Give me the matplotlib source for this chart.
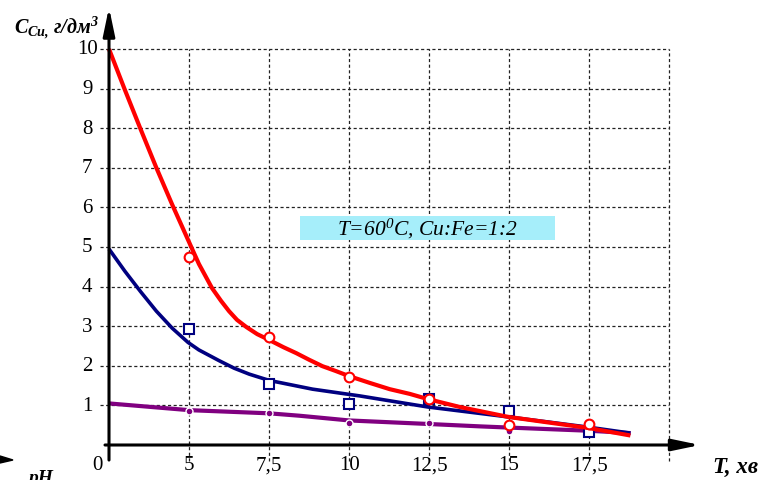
import matplotlib
matplotlib.use("Agg")
import matplotlib.pyplot as plt
from matplotlib.patches import Rectangle
import numpy as np

plt.rcParams['font.family'] = ['Liberation Serif', 'DejaVu Serif']
plt.rcParams['mathtext.fontset'] = 'custom'
plt.rcParams['mathtext.rm'] = 'Liberation Serif:italic'
plt.rcParams['mathtext.it'] = 'Liberation Serif:italic'
plt.rcParams['mathtext.bf'] = 'Liberation Serif:bold:italic'

# виміряні точки
t_pts = [5, 7.5, 10, 12.5, 15, 17.5]
red_pts = [4.75, 2.73, 1.72, 1.16, 0.50, 0.53]
blue_pts = [2.92, 1.54, 1.03, 1.15, 0.86, 0.33]
purple_pts = [0.86, 0.80, 0.55, 0.55, 0.35, 0.35]

# апроксимуючі криві
red_t = [0, 0.99, 1.98, 2.96, 3.95, 4.94, 5.31, 5.72, 6.0, 6.25, 6.5, 6.79, 7.13, 7.51,
         7.95, 8.35, 8.76, 9.17, 9.58, 10, 10.64, 11.27, 11.9, 12.46, 13.46, 14.97,
         16.22, 17.48, 18.79]
red_c = [10, 8.97, 7.97, 7.0, 6.07, 5.18, 4.57, 3.96, 3.64, 3.38, 3.16, 2.98, 2.80, 2.65,
         2.47, 2.32, 2.15, 1.99, 1.87, 1.74, 1.57, 1.41, 1.29, 1.16, 0.96, 0.71,
         0.57, 0.43, 0.24]
blue_ct = [0, 0.99, 1.98, 2.96, 3.95, 4.94, 5.31, 5.94, 6.41, 6.88, 7.51, 8.86, 10.33,
           12.46, 14.97, 17.48, 18.79]
blue_c = [4.95, 4.39, 3.87, 3.38, 2.95, 2.59, 2.40, 2.13, 1.94, 1.79, 1.63, 1.41, 1.24,
          0.96, 0.71, 0.45, 0.30]
purple_ct = [0, 5, 7.5, 8.44, 10, 12.5, 14.1, 15, 17.5, 18.8]
purple_c = [1.05, 0.88, 0.80, 0.74, 0.62, 0.53, 0.47, 0.44, 0.36, 0.30]

x_ticks = [5, 7.5, 10, 12.5, 15, 17.5]
x_labels = ['5', '7,5', '10', '12,5', '15', '17,5']
y_ticks = [1, 2, 3, 4, 5, 6, 7, 8, 9, 10]


# вісь часу: 0..5 займає одну клітинку, далі крок 2,5
def fwd(v):
    v = np.asarray(v, dtype=float)
    return np.where(v < 5, v / 5, 1 + (v - 5) / 2.5)


def inv(p):
    p = np.asarray(p, dtype=float)
    return np.where(p < 1, p * 5, 5 + (p - 1) * 2.5)


W, H = 765, 481
fig = plt.figure(figsize=(W / 100, H / 100), dpi=100)
ax = fig.add_axes([100 / W, (H - 446) / H, 612 / W, (446 - 10.4) / H])
ax.set_xscale('function', functions=(fwd, inv))
ax.set_xlim(-0.5625, 21.34)
ax.set_ylim(0, 11)
for s in ax.spines.values():
    s.set_visible(False)
ax.set_xticks([])
ax.set_yticks([])

# сітка
grid_kw = dict(color='#222222', linewidth=0.9, linestyle=(0, (2.5, 2)), zorder=1, clip_on=False)
ax.vlines(x_ticks + [20], -0.4, 10, **grid_kw)
ax.hlines(y_ticks, -0.5625, 20, **grid_kw)

# осі зі стрілками
arr = dict(arrowstyle='-|>,head_length=1.2,head_width=0.25', color='black', lw=2.2,
           shrinkA=0, shrinkB=0, mutation_scale=14)
ax.annotate('', xy=(0, 11.05), xytext=(0, -0.38), arrowprops=arr, annotation_clip=False, zorder=6)
ax.annotate('', xy=(20.97, 0), xytext=(-0.25, 0), arrowprops=arr, annotation_clip=False, zorder=6)

# підписи поділок
for v, lab in zip(x_ticks, x_labels):
    ax.text(v, -0.5, lab, ha='center', va='center', fontsize=15, clip_on=False)
ax.text(-0.75, -0.5, '0', ha='center', va='center', fontsize=15, clip_on=False)
for v in y_ticks:
    ax.text(-1.36, v, str(v), ha='center', va='center', fontsize=15, clip_on=False)

# криві та точки
ax.plot(purple_ct, purple_c, color='#800080', lw=3, zorder=3, solid_capstyle='butt')
ax.plot(t_pts, purple_pts, 'o', color='#800080', ms=5, mec='white', mew=1, zorder=3.5)
ax.plot(blue_ct, blue_c, color='#000080', lw=2.6, zorder=4, solid_capstyle='butt',
        solid_joinstyle='round')
ax.plot(t_pts, blue_pts, 's', color='#000080', mfc='white', ms=7, mew=1.5, zorder=4.5)
ax.plot(red_t, red_c, color='#ff0000', lw=3, zorder=5, solid_capstyle='butt',
        solid_joinstyle='round')
ax.plot(t_pts, red_pts, 'o', color='#ff0000', mfc='white', ms=7, mew=1.5, zorder=5.5)

# підпис умов
ax.add_patch(Rectangle((300 / W, 1 - 241 / H), 255 / W, 24 / H, transform=fig.transFigure,
                       facecolor='#a6eefa', edgecolor='none', zorder=2, clip_on=False))
fig.text(427 / W, 1 - 229 / H, r'T=60$^{0}$C, Cu:Fe=1:2', ha='center', va='center',
         fontsize=15.5, style='italic', zorder=10)

# назви осей
fig.text(14 / W, 1 - 28 / H, r'$\mathbf{C_{Cu,}\,}$г/дм$^{\mathbf{3}}$', ha='left', va='center',
         fontsize=14.5, fontweight='bold', style='italic')
fig.text(758 / W, 1 - 467 / H, 'T, хв', ha='right', va='center',
         fontsize=16.5, fontweight='bold', style='italic')

# фрагмент сусіднього графіка
fig.text(28 / W, 1 - 470 / H, 'pH', ha='left', va='top', fontsize=14,
         fontweight='bold', style='italic')
fig.patches.append(plt.Polygon([[0 / W, 1 - 457 / H], [13 / W, 1 - 461 / H], [0 / W, 1 - 464 / H]],
                               closed=True, transform=fig.transFigure, color='black'))

fig.savefig('out.png', dpi=100)
